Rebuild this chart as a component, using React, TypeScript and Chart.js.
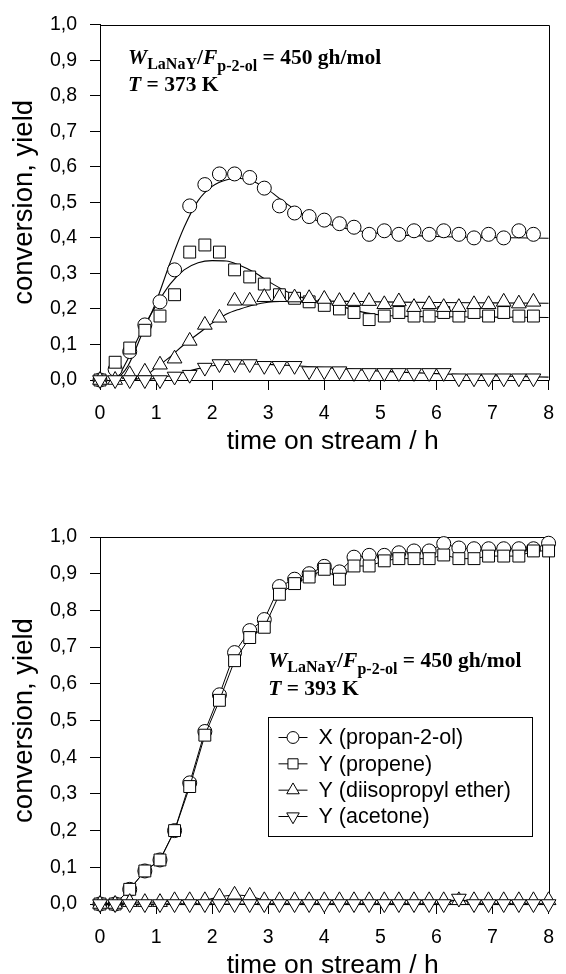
import React, { useEffect, useRef } from 'react';
import { Chart, registerables } from 'chart.js';
import { drawPoint } from 'chart.js/helpers';

Chart.register(...registerables);

// ---------------- data: T = 373 K ----------------
const TIME_373 = [0, 0.27, 0.53, 0.8, 1.07, 1.33, 1.6, 1.87, 2.13, 2.4, 2.67, 2.93, 3.2, 3.47, 3.73, 4.0, 4.27, 4.53, 4.8, 5.07, 5.33, 5.6, 5.87, 6.13, 6.4, 6.67, 6.93, 7.2, 7.47, 7.73];
const X_373 = [0, 0.03, 0.08, 0.155, 0.22, 0.31, 0.49, 0.55, 0.58, 0.58, 0.57, 0.54, 0.49, 0.47, 0.46, 0.45, 0.44, 0.43, 0.41, 0.42, 0.41, 0.42, 0.41, 0.42, 0.41, 0.40, 0.41, 0.40, 0.42, 0.41];
const PROPENE_373 = [0, 0.05, 0.09, 0.14, 0.18, 0.24, 0.36, 0.38, 0.36, 0.31, 0.29, 0.27, 0.24, 0.23, 0.22, 0.21, 0.2, 0.19, 0.17, 0.18, 0.19, 0.18, 0.18, 0.19, 0.18, 0.19, 0.18, 0.19, 0.18, 0.18];
const ETHER_373 = [0, 0, 0.016, 0.023, 0.043, 0.06, 0.11, 0.155, 0.175, 0.223, 0.223, 0.233, 0.233, 0.232, 0.23, 0.228, 0.222, 0.222, 0.222, 0.213, 0.221, 0.205, 0.213, 0.205, 0.205, 0.213, 0.213, 0.22, 0.215, 0.22];
const ACETONE_373 = [0, 0, 0, 0, 0, 0.01, 0.015, 0.035, 0.045, 0.045, 0.045, 0.04, 0.04, 0.04, 0.025, 0.025, 0.025, 0.02, 0.02, 0.02, 0.02, 0.02, 0.02, 0.02, 0.005, 0.005, 0.005, 0.005, 0.005, 0.005];

// model curves
const FIT_X_TIME = [0.3, 0.5, 0.75, 1.0, 1.25, 1.5, 1.75, 2.0, 2.25, 2.5, 2.75, 3.0, 3.25, 3.5, 3.75, 4.0, 4.5, 5.0, 5.5, 6.0, 7.0, 8.0];
const FIT_X_373 = [0, 0.04, 0.13, 0.22, 0.33, 0.43, 0.505, 0.545, 0.563, 0.567, 0.558, 0.535, 0.505, 0.478, 0.457, 0.442, 0.423, 0.412, 0.407, 0.404, 0.401, 0.399];
const FIT_PROPENE_TIME = [0.3, 0.5, 0.75, 1.0, 1.25, 1.5, 1.75, 2.0, 2.25, 2.5, 2.75, 3.0, 3.25, 3.5, 3.75, 4.0, 4.25, 4.5, 4.75, 5.0, 5.5, 6.0, 7.0, 8.0];
const FIT_PROPENE_373 = [0, 0.06, 0.14, 0.21, 0.27, 0.31, 0.33, 0.336, 0.335, 0.322, 0.303, 0.278, 0.255, 0.238, 0.226, 0.218, 0.21, 0.198, 0.189, 0.183, 0.179, 0.178, 0.177, 0.176];
const FIT_ETHER_TIME = [0.6, 0.8, 1.0, 1.25, 1.5, 1.75, 2.0, 2.25, 2.5, 2.75, 3.0, 3.5, 4.0, 5.0, 6.0, 7.0, 8.0];
const FIT_ETHER_373 = [0, 0.01, 0.035, 0.065, 0.1, 0.13, 0.16, 0.185, 0.2, 0.212, 0.219, 0.222, 0.222, 0.22, 0.218, 0.217, 0.216];
const FIT_ACETONE_TIME = [0.8, 1.0, 1.25, 1.5, 1.75, 2.0, 2.5, 3.0, 3.5, 4.0, 4.5, 5.0, 6.0, 7.0, 8.0];
const FIT_ACETONE_373 = [0, 0.005, 0.012, 0.022, 0.032, 0.04, 0.045, 0.044, 0.04, 0.035, 0.03, 0.025, 0.018, 0.012, 0.008];

// ---------------- data: T = 393 K ----------------
const TIME_393 = [0, 0.27, 0.53, 0.8, 1.07, 1.33, 1.6, 1.87, 2.13, 2.4, 2.67, 2.93, 3.2, 3.47, 3.73, 4.0, 4.27, 4.53, 4.8, 5.07, 5.33, 5.6, 5.87, 6.13, 6.4, 6.67, 6.93, 7.2, 7.47, 7.73, 8.0];
const X_393 = [0, 0, 0.04, 0.09, 0.12, 0.2, 0.33, 0.47, 0.57, 0.685, 0.745, 0.775, 0.865, 0.885, 0.9, 0.92, 0.905, 0.945, 0.95, 0.95, 0.957, 0.962, 0.962, 0.982, 0.97, 0.968, 0.968, 0.968, 0.968, 0.968, 0.983];
const PROPENE_393 = [0, 0, 0.04, 0.09, 0.12, 0.2, 0.32, 0.46, 0.555, 0.663, 0.726, 0.754, 0.844, 0.873, 0.891, 0.912, 0.885, 0.921, 0.921, 0.935, 0.941, 0.941, 0.941, 0.951, 0.941, 0.941, 0.948, 0.948, 0.948, 0.962, 0.962];
const ETHER_393 = [0, 0, 0.005, 0.005, 0.005, 0.01, 0.01, 0.01, 0.02, 0.025, 0.022, 0.01, 0.01, 0.01, 0.01, 0.01, 0.01, 0.01, 0.01, 0.01, 0.01, 0.01, 0.01, 0.01, 0.01, 0.01, 0.01, 0.01, 0.01, 0.01, 0.01];
const ACETONE_393 = [0, 0, 0, 0, 0, 0, 0, 0, 0, 0, 0, 0, 0, 0, 0, 0, 0, 0, 0, 0, 0, 0, 0, 0, 0.015, 0, 0, 0, 0, 0, 0];

const SERIES_LABELS = ['X (propan-2-ol)', 'Y (propene)', 'Y (diisopropyl ether)', 'Y (acetone)'];
const X_AXIS_TITLE = 'time on stream / h';
const Y_AXIS_TITLE = 'conversion, yield';

// ---------------- styling ----------------
const SANS = "'Liberation Sans', Arial, Helvetica, sans-serif";
const SERIF = "'Liberation Serif', 'Times New Roman', serif";
const MARKERS = [
  { style: 'circle', rotation: 0, radius: 7 },
  { style: 'rect', rotation: 0, radius: 8.4 },
  { style: 'triangle', rotation: 0, radius: 8.5 },
  { style: 'triangle', rotation: 180, radius: 8.5 },
];

type Pt = { x: number; y: number };
const pts = (xs: number[], ys: number[]): Pt[] => xs.map((x, i) => ({ x, y: ys[i] }));

function markerDataset(i: number, xs: number[], ys: number[], showLine: boolean) {
  const m = MARKERS[i];
  return {
    label: SERIES_LABELS[i],
    data: pts(xs, ys),
    showLine,
    borderColor: '#000',
    borderWidth: 1,
    backgroundColor: '#fff',
    pointStyle: m.style,
    pointRotation: m.rotation,
    pointRadius: m.radius,
    pointBorderColor: '#000',
    pointBackgroundColor: '#fff',
    pointBorderWidth: 1,
    clip: false,
    order: 4 - i,
  };
}

function curveDataset(xs: number[], ys: number[]) {
  return {
    label: 'fit',
    data: pts(xs, ys),
    showLine: true,
    borderColor: '#000',
    borderWidth: 1.1,
    pointRadius: 0,
    cubicInterpolationMode: 'monotone',
    clip: false,
    order: 10,
  };
}

type Run = { text: string; size: number; italic?: boolean; dy?: number };
const LINE1: Run[] = [
  { text: 'W', size: 21.5, italic: true },
  { text: 'LaNaY', size: 16, dy: 5 },
  { text: '/', size: 21.5 },
  { text: 'F', size: 21.5, italic: true },
  { text: 'p-2-ol', size: 16, dy: 7 },
  { text: ' = 450 gh/mol', size: 21.5 },
];
const lineT = (temp: string): Run[] => [
  { text: 'T', size: 21.5, italic: true },
  { text: ' = ' + temp, size: 21.5 },
];

function drawRuns(ctx: CanvasRenderingContext2D, x: number, y: number, runs: Run[]) {
  let cx = x;
  ctx.textBaseline = 'alphabetic';
  ctx.textAlign = 'left';
  ctx.fillStyle = '#000';
  for (const r of runs) {
    ctx.font = `${r.italic ? 'italic ' : ''}bold ${r.size}px ${SERIF}`;
    ctx.fillText(r.text, cx, y + (r.dy || 0));
    cx += ctx.measureText(r.text).width;
  }
}

function annotationPlugin(anchor: { x: number; y1: number; y2: number }, temp: string) {
  return {
    id: 'annot',
    afterDraw(chart: any) {
      const { ctx, scales } = chart;
      const x = scales.x.getPixelForValue(anchor.x);
      ctx.save();
      drawRuns(ctx, x, scales.y.getPixelForValue(anchor.y1), LINE1);
      drawRuns(ctx, x, scales.y.getPixelForValue(anchor.y2), lineT(temp));
      ctx.restore();
    },
  };
}

// x-axis title, centred slightly right of the axis middle as in the original
const xTitlePlugin = {
  id: 'xTitle',
  afterDraw(chart: any) {
    const { ctx, scales, chartArea } = chart;
    ctx.save();
    ctx.fillStyle = '#000';
    ctx.font = `26.5px ${SANS}`;
    ctx.textAlign = 'center';
    ctx.textBaseline = 'middle';
    ctx.fillText(X_AXIS_TITLE, scales.x.getPixelForValue(4.15), chartArea.bottom + 62);
    ctx.restore();
  },
};

const framePlugin = {
  id: 'frame',
  beforeDatasetsDraw(chart: any) {
    const { ctx, chartArea } = chart;
    const l = Math.round(chartArea.left) + 0.5;
    const r = Math.round(chartArea.right) + 0.5;
    const t = Math.round(chartArea.top) + 0.5;
    const b = Math.round(chartArea.bottom) + 0.5;
    ctx.save();
    ctx.strokeStyle = '#000';
    ctx.lineWidth = 1;
    ctx.beginPath();
    ctx.moveTo(l, t);
    ctx.lineTo(r, t);
    ctx.lineTo(r, b);
    ctx.stroke();
    ctx.restore();
  },
};

function legendPlugin(box: { x1: number; x2: number; y1: number; y2: number }) {
  return {
    id: 'boxLegend',
    afterDraw(chart: any) {
      const { ctx, scales } = chart;
      const L = Math.round(scales.x.getPixelForValue(box.x1)) + 0.5;
      const R = Math.round(scales.x.getPixelForValue(box.x2)) + 0.5;
      const T = Math.round(scales.y.getPixelForValue(box.y1)) + 0.5;
      const B = Math.round(scales.y.getPixelForValue(box.y2)) + 0.5;
      ctx.save();
      ctx.fillStyle = '#fff';
      ctx.fillRect(L, T, R - L, B - T);
      ctx.strokeStyle = '#000';
      ctx.lineWidth = 1;
      ctx.strokeRect(L, T, R - L, B - T);
      const first = 20;
      const rowH = (B - T - 2 * first) / (SERIES_LABELS.length - 1);
      SERIES_LABELS.forEach((label, i) => {
        const cy = T + first + rowH * i;
        ctx.strokeStyle = '#000';
        ctx.beginPath();
        ctx.moveTo(L + 10, cy);
        ctx.lineTo(L + 39, cy);
        ctx.stroke();
        const m = MARKERS[i];
        ctx.fillStyle = '#fff';
        drawPoint(ctx, { pointStyle: m.style, radius: m.radius * 0.85, rotation: m.rotation, borderWidth: 1 } as any, L + 24.5, cy);
        ctx.fillStyle = '#000';
        ctx.font = `21.5px ${SANS}`;
        ctx.textAlign = 'left';
        ctx.textBaseline = 'middle';
        ctx.fillText(label, L + 50, cy + 1);
      });
      ctx.restore();
    },
  };
}

const CHART_LEFT = 100;
const CHART_RIGHT_PAD = 9;
const X_AXIS_HEIGHT = 90;

function makeOptions(topPad: number) {
  return {
    responsive: false,
    animation: false,
    events: [],
    layout: { padding: { top: topPad, right: CHART_RIGHT_PAD, left: 0, bottom: 0 } },
    plugins: { legend: { display: false }, tooltip: { enabled: false } },
    scales: {
      x: {
        type: 'linear',
        min: 0,
        max: 8,
        afterFit: (s: any) => { s.height = X_AXIS_HEIGHT; },
        ticks: { stepSize: 1, color: '#000', padding: 12, font: { family: SANS, size: 19.5 }, maxRotation: 0 },
        grid: { drawOnChartArea: false, drawTicks: true, tickLength: 10, color: '#000', lineWidth: 1 },
        border: { display: true, color: '#000', width: 1 },
        title: { display: false },
      },
      y: {
        type: 'linear',
        min: 0,
        max: 1,
        afterFit: (s: any) => { s.width = CHART_LEFT; },
        ticks: {
          stepSize: 0.1,
          color: '#000',
          padding: 13,
          font: { family: SANS, size: 19.5 },
          callback: (v: any) => Number(v).toFixed(1).replace('.', ','),
        },
        grid: { drawOnChartArea: false, drawTicks: true, tickLength: 10, color: '#000', lineWidth: 1 },
        border: { display: true, color: '#000', width: 1 },
        title: { display: true, text: Y_AXIS_TITLE, color: '#000', font: { family: SANS, size: 27.5 }, padding: { top: 8, bottom: 0 } },
      },
    },
  };
}

function useChart(ref: React.RefObject<HTMLCanvasElement>, build: () => any) {
  useEffect(() => {
    if (!ref.current) return;
    const chart = new Chart(ref.current, build());
    return () => chart.destroy();
  }, []);
}

export default function App() {
  const topRef = useRef<HTMLCanvasElement>(null);
  const botRef = useRef<HTMLCanvasElement>(null);

  useChart(topRef, () => ({
    type: 'scatter',
    data: {
      datasets: [
        markerDataset(0, TIME_373, X_373, false),
        markerDataset(1, TIME_373, PROPENE_373, false),
        markerDataset(2, TIME_373, ETHER_373, false),
        markerDataset(3, TIME_373, ACETONE_373, false),
        curveDataset(FIT_X_TIME, FIT_X_373),
        curveDataset(FIT_PROPENE_TIME, FIT_PROPENE_373),
        curveDataset(FIT_ETHER_TIME, FIT_ETHER_373),
        curveDataset(FIT_ACETONE_TIME, FIT_ACETONE_373),
      ],
    },
    options: makeOptions(19),
    plugins: [framePlugin, xTitlePlugin, annotationPlugin({ x: 0.5, y1: 0.888, y2: 0.812 }, '373 K')],
  }));

  useChart(botRef, () => ({
    type: 'scatter',
    data: {
      datasets: [
        markerDataset(0, TIME_393, X_393, true),
        markerDataset(1, TIME_393, PROPENE_393, true),
        markerDataset(2, TIME_393, ETHER_393, true),
        markerDataset(3, TIME_393, ACETONE_393, true),
      ],
    },
    options: makeOptions(47),
    plugins: [
      framePlugin,
      xTitlePlugin,
      annotationPlugin({ x: 3.0, y1: 0.645, y2: 0.57 }, '393 K'),
      legendPlugin({ x1: 3.0, x2: 7.7, y1: 0.51, y2: 0.185 }),
    ],
  }));

  return (
    <div style={{ position: 'absolute', left: 0, top: 0, width: 566, height: 974, overflow: 'hidden', background: '#fff' }}>
      <canvas ref={topRef} width={566} height={470} style={{ position: 'absolute', left: 0, top: 0, width: 566, height: 470 }} />
      <canvas ref={botRef} width={566} height={504} style={{ position: 'absolute', left: 0, top: 490, width: 566, height: 504 }} />
    </div>
  );
}
